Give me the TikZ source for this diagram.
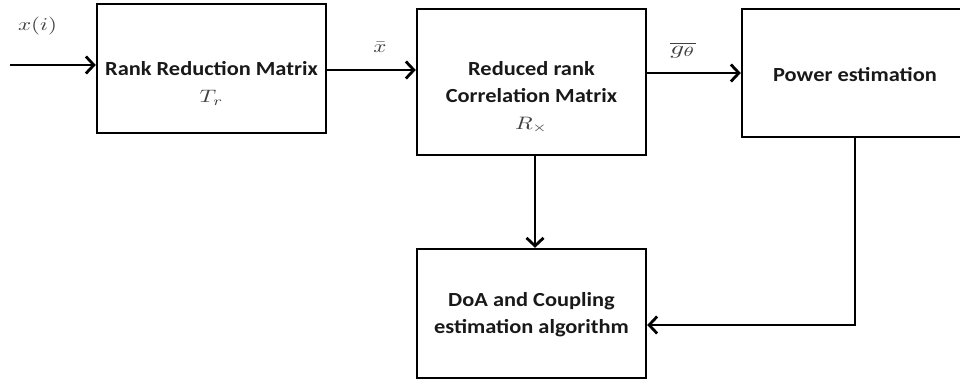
\documentclass[tikz,border=0pt]{standalone}
\usepackage{graphicx}
\usepackage{fontspec}
\setmainfont{Carlito}
\usetikzlibrary{arrows.meta}
\begin{document}
\begin{tikzpicture}[x=1pt,y=-1pt,
  blk/.style={draw=black, line width=2.4pt, minimum width=229pt, inner sep=0pt},
  lbl/.style={font=\fontsize{20}{27}\selectfont\bfseries, inner sep=0pt, text=black!90},
  mth/.style={font=\normalsize, inner sep=0pt, text=black!75},
  conn/.style={line width=2.8pt, -{Straight Barb[length=8pt,width=17pt]}}]
\useasboundingbox (0,0) rectangle (960,382);
% boxes
\node[blk, minimum height=129pt] (b1) at (211.5,68.5) {};
\node[blk, minimum height=146pt] (b2) at (531.5,82) {};
\node[blk, minimum width=226pt, minimum height=128pt] (pw) at (855,73) {};
\node[blk, minimum height=129pt] (doa) at (531.5,313.5) {};
% texts
\node[lbl] (t1) at (211.5,69) {\scalebox{1.12}[1]{Rank Reduction Matrix}};
\node[mth] (m1) at (211.5,98) {\scalebox{2.3}[1.8]{$T_r$}};
\node[lbl] (t2) at (531.5,84) {\scalebox{1.12}[1]{\begin{tabular}{@{}c@{}}Reduced rank\\Correlation Matrix\end{tabular}}};
\node[mth] (m2) at (531.5,125) {\scalebox{2.3}[1.8]{$R_{\times}$}};
\node[lbl] (t3) at (855,75) {\scalebox{1.12}[1]{Power estimation}};
\node[lbl] (t4) at (531.5,315) {\scalebox{1.12}[1]{\begin{tabular}{@{}c@{}}DoA and Coupling\\estimation algorithm\end{tabular}}};
% signal labels
\node[mth] (lx) at (37.5,26) {\scalebox{2.3}[1.8]{$x(i)$}};
\node[mth] (lxb) at (380,47) {\scalebox{2.3}[1.8]{$\bar{x}$}};
\node[mth] (lg) at (683,50) {\scalebox{2.7}[1.9]{$\overline{g_\theta}$}};
% connectors
\coordinate (in) at (10,65);
\draw[conn] (in) -- (in -| b1.west);
\draw[conn] (b1.east |- 0,70) -- (b2.west |- 0,70);
\draw[conn] (b2.east |- 0,73) -- (pw.west |- 0,73);
\draw[conn] (b2.south -| 535,0) -- (doa.north -| 535,0);
\draw[conn] (pw.south -| 855,0) |- (doa.east |- 0,325);
\end{tikzpicture}
\end{document}
